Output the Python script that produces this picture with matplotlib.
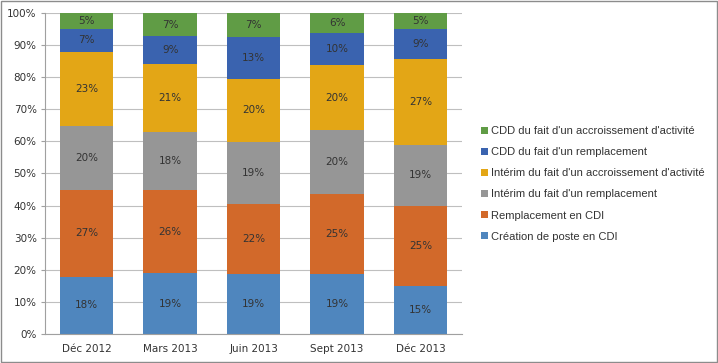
import matplotlib.pyplot as plt
import numpy as np
from matplotlib.patches import Rectangle

periodes = ['Déc 2012', 'Mars 2013', 'Juin 2013', 'Sept 2013', 'Déc 2013']

creation_cdi = [17.9, 18.9, 18.6, 18.6, 15.0]
remplacement_cdi = [27.0, 26.0, 21.9, 25.0, 24.9]
interim_remplacement = [19.9, 17.9, 19.4, 20.0, 19.1]
interim_accroissement = [23.1, 21.2, 19.6, 20.1, 26.6]
cdd_remplacement = [7.1, 8.8, 13.1, 10.0, 9.4]
cdd_accroissement = [5.0, 7.2, 7.4, 6.3, 5.0]

series = [
    ('Création de poste en CDI', creation_cdi, '#4F86BE'),
    ('Remplacement en CDI', remplacement_cdi, '#D2692A'),
    ("Intérim du fait d'un remplacement", interim_remplacement, '#969696'),
    ("Intérim du fait d'un accroissement d'activité", interim_accroissement, '#E3A616'),
    ("CDD du fait d'un remplacement", cdd_remplacement, '#3A63AF'),
    ("CDD du fait d'un accroissement d'activité", cdd_accroissement, '#609C45'),
]

texte = '#333333'
plt.rcParams['font.family'] = ['DejaVu Sans']

fig = plt.figure(figsize=(7.18, 3.63), dpi=100)
ax = fig.add_axes([0.0627, 0.0799, 0.581, 0.8843])

x = np.arange(len(periodes))
bas = np.zeros(len(periodes))
handles = []
for nom, valeurs, couleur in series:
    v = np.array(valeurs)
    b = ax.bar(x, v, bottom=bas, width=0.64, color=couleur, label=nom, zorder=2)
    handles.append(b)
    for xi, yi, vi in zip(x, bas, v):
        ax.text(xi, yi + vi / 2, '%.0f%%' % vi, ha='center', va='center',
                fontsize=7.5, color=texte, zorder=3)
    bas += v

ax.set_xlim(-0.5, len(periodes) - 0.5)
ax.set_ylim(0, 100)
ax.set_yticks(range(0, 101, 10))
ax.set_yticklabels(['%d%%' % t for t in range(0, 101, 10)])
ax.set_xticks(x)
ax.set_xticklabels(periodes)
ax.tick_params(axis='both', labelsize=7.5, colors=texte, length=0)
ax.tick_params(axis='y', length=3, color='#A0A0A0', pad=3)
ax.tick_params(axis='x', pad=7)
ax.yaxis.grid(True, color='#BFBFBF', linewidth=0.8, zorder=0)
ax.set_axisbelow(True)
for s in ['top', 'right']:
    ax.spines[s].set_visible(False)
ax.spines['left'].set_color('#A0A0A0')
ax.spines['bottom'].set_color('#A0A0A0')

fig.legend(handles[::-1], [s[0] for s in series][::-1],
           loc='upper left', bbox_to_anchor=(0.656, 0.68),
           frameon=False, handlelength=0.6, handleheight=0.6,
           handletextpad=0.3, labelspacing=1.0, labelcolor=texte,
           prop={'family': 'Liberation Sans', 'size': 8})

fig.patches.append(Rectangle((0.001, 0.002), 0.997, 0.995, transform=fig.transFigure,
                             fill=False, edgecolor='#8C8C8C', linewidth=1))

plt.savefig('out.png', dpi=100)
